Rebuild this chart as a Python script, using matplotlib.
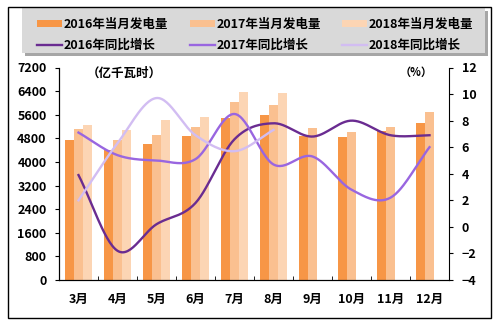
import numpy as np
import matplotlib
matplotlib.use("Agg")
import matplotlib.pyplot as plt
from matplotlib.patches import Rectangle

plt.rcParams['font.family'] = ['Noto Sans CJK SC', 'DejaVu Sans']
plt.rcParams['font.weight'] = 'bold'

months = ["3月", "4月", "5月", "6月", "7月", "8月", "9月", "10月", "11月", "12月"]

# monthly generation (亿千瓦时)
gen_2016 = [4750, 4420, 4600, 4870, 5490, 5580, 4870, 4850, 5050, 5320]
gen_2017 = [5130, 4730, 4900, 5170, 6020, 5920, 5160, 5010, 5170, 5680]
gen_2018 = [5240, 5070, 5410, 5510, 6355, 6345, np.nan, np.nan, np.nan, np.nan]

# year-on-year growth (%)
yoy_2016 = [3.9, -1.8, 0.2, 1.8, 6.6, 7.8, 6.8, 8.0, 6.9, 6.9]
yoy_2017 = [7.1, 5.4, 5.0, 5.1, 8.5, 4.7, 5.3, 2.8, 2.2, 6.0]
yoy_2018 = [2.0, 6.3, 9.7, 6.9, 5.7, 7.3]

bar_colors = ["#f79646", "#fac090", "#fcd5b4"]
line_colors = ["#6a2c91", "#9966e0", "#d2bdf2"]


def smooth(y, n=30):
    # catmull-rom through the points, roughly what excel's smoothed line does
    y = np.asarray(y, dtype=float)
    x = np.arange(len(y), dtype=float)
    px = np.concatenate(([2 * x[0] - x[1]], x, [2 * x[-1] - x[-2]]))
    py = np.concatenate(([2 * y[0] - y[1]], y, [2 * y[-1] - y[-2]]))
    xs, ys = [], []
    t = np.linspace(0, 1, n, endpoint=False)
    for i in range(1, len(px) - 2):
        for arr, out in ((px, xs), (py, ys)):
            p0, p1, p2, p3 = arr[i - 1], arr[i], arr[i + 1], arr[i + 2]
            out.extend(0.5 * ((2 * p1) + (-p0 + p2) * t
                              + (2 * p0 - 5 * p1 + 4 * p2 - p3) * t ** 2
                              + (-p0 + 3 * p1 - 3 * p2 + p3) * t ** 3))
    xs.append(x[-1])
    ys.append(y[-1])
    return np.array(xs), np.array(ys)


fig = plt.figure(figsize=(5.02, 3.26), dpi=100)
ax = fig.add_axes([59 / 502, 1 - 280 / 326, 390 / 502, 212.5 / 326])

x = np.arange(len(months))
w = 0.23
bars = []
for k, (vals, c) in enumerate(zip([gen_2016, gen_2017, gen_2018], bar_colors)):
    bars.append(ax.bar(x + (k - 1) * w, vals, w, color=c, linewidth=0))

ax.set_xlim(-0.5, len(months) - 0.5)
ax.set_ylim(0, 7200)
ax.set_yticks(np.arange(0, 7201, 800))
ax.set_xticks(x)
ax.set_xticklabels(months)
ax.set_xticks(np.arange(-0.5, len(months), 1), minor=True)
ax.tick_params(axis='x', which='major', length=0, pad=9, labelsize=9)
ax.tick_params(axis='x', which='minor', length=3, direction='in')
ax.tick_params(axis='y', length=3, direction='out', pad=6, labelsize=9)
ax.spines['top'].set_visible(False)
ax.spines['right'].set_visible(False)

ax2 = ax.twinx()
lines = []
for vals, c in zip([yoy_2016, yoy_2017, yoy_2018], line_colors):
    sx, sy = smooth(vals)
    lines.append(ax2.plot(sx, sy, color=c, lw=1.7)[0])
ax2.set_ylim(-4, 12)
ax2.set_yticks(np.arange(-4, 13, 2))
ax2.tick_params(axis='y', length=3, direction='out', pad=6, labelsize=9)
ax2.spines['top'].set_visible(False)

ax.text(87 / 502, 1 - 73 / 326, "（亿千瓦时）", transform=fig.transFigure,
        fontsize=9, va='center', ha='left')
ax.text(433 / 502, 1 - 72 / 326, "（%）", transform=fig.transFigure,
        fontsize=8, va='center', ha='right')

# grey legend panel with a drop shadow
fig.add_artist(Rectangle((25 / 502, 1 - 56 / 326), 463 / 502, 45 / 326,
                         transform=fig.transFigure, facecolor='#a6a6a6',
                         edgecolor='none'))
fig.add_artist(Rectangle((22 / 502, 1 - 53 / 326), 463 / 502, 45 / 326,
                         transform=fig.transFigure, facecolor='#d9d9d9',
                         edgecolor='none'))

handles = [bars[0], lines[0], bars[1], lines[1], bars[2], lines[2]]
labels = ["2016年当月发电量", "2016年同比增长", "2017年当月发电量",
          "2017年同比增长", "2018年当月发电量", "2018年同比增长"]
leg = fig.legend(handles, labels, ncol=3, loc='upper left',
                 bbox_to_anchor=(37 / 502, 1 - 18 / 326),
                 borderaxespad=0, borderpad=0, fontsize=9,
                 handlelength=2.0, handleheight=0.45, handletextpad=0.15,
                 labelspacing=0.62, columnspacing=1.7, frameon=False)

fig.add_artist(Rectangle((8 / 502, 1 - 318 / 326), 483 / 502, 311 / 326,
                         transform=fig.transFigure, fill=False,
                         edgecolor='black', lw=1))

fig.savefig("out.png", dpi=100)
